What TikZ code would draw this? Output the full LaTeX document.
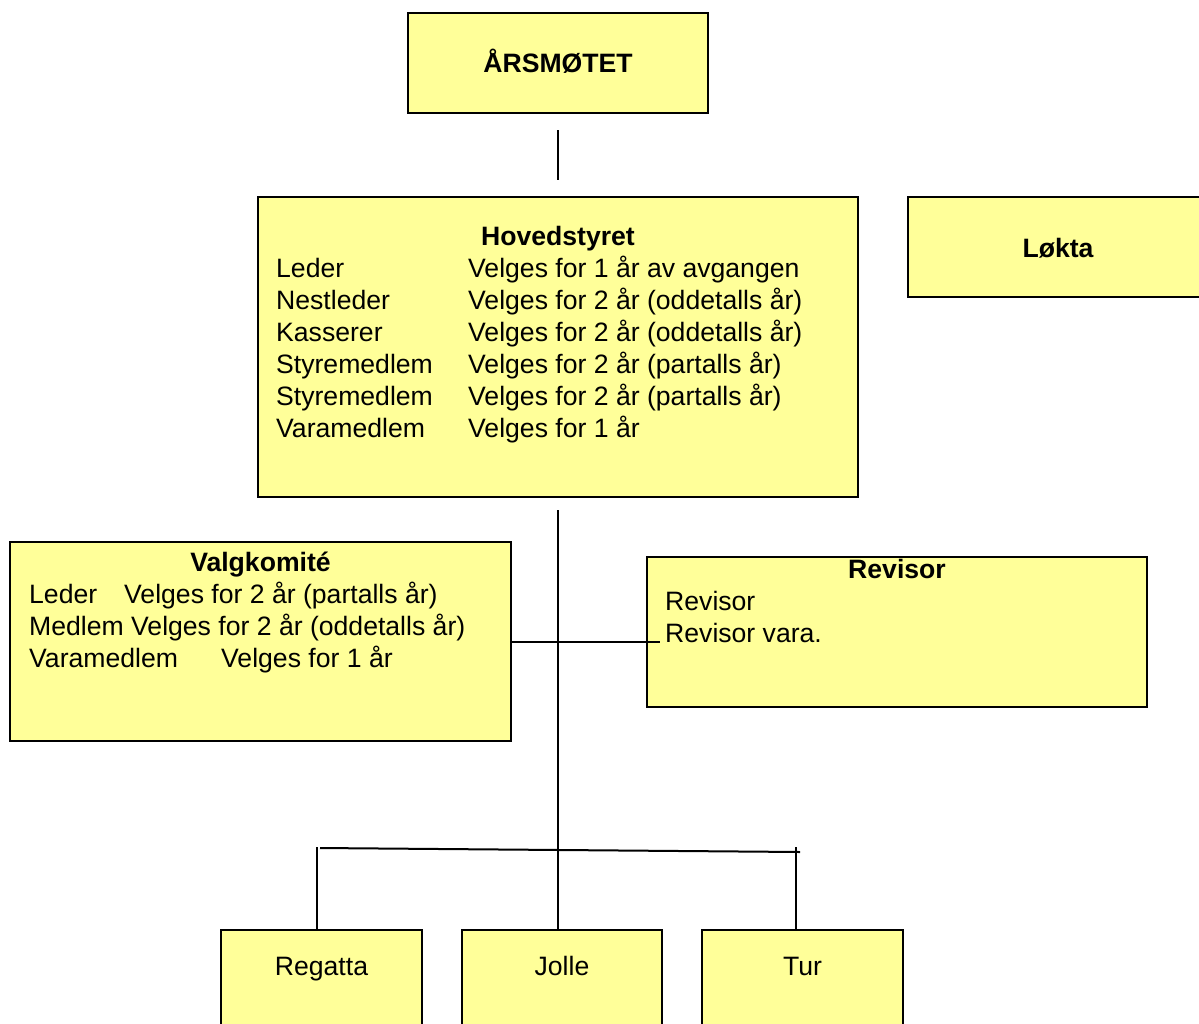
\documentclass[tikz,border=0pt]{standalone}
\usepackage{fontspec}
\setmainfont{Liberation Sans}
\definecolor{boxyellow}{HTML}{FFFF99}
\begin{document}
\begin{tikzpicture}[x=1pt,y=-1pt,
  box/.style={draw=black,line width=2pt,fill=boxyellow,inner sep=0pt,outer sep=0pt,anchor=north west},
  txt/.style={inner sep=0pt,font=\fontsize{26.6}{32}\selectfont},
  ttl/.style={inner sep=0pt,anchor=base,font=\fontsize{26.6}{32}\selectfont\bfseries},
  row/.style={txt,anchor=base west},
  conn/.style={draw=black,line width=2pt}]
\useasboundingbox (0,0) rectangle (1199,1023);
\clip (0,0) rectangle (1199,1023);
% boxes
\node[box,minimum width=300pt,minimum height=100pt] (aars) at (408,13) {};
\node[box,minimum width=600pt,minimum height=300pt] (hoved) at (258,197) {};
\node[box,minimum width=320pt,minimum height=100pt] (lokta) at (908,197) {};
\node[box,minimum width=501pt,minimum height=199pt] (valg) at (10,542) {};
\node[box,minimum width=500pt,minimum height=150pt] (rev) at (647,557) {};
\node[box,minimum width=201pt,minimum height=110pt] (regatta) at (221,930) {};
\node[box,minimum width=200pt,minimum height=110pt] (jolle) at (462,930) {};
\node[box,minimum width=201pt,minimum height=110pt] (tur) at (702,930) {};
% titles
\node[ttl] (aarsT) at (558,72.5) {ÅRSMØTET};
\node[ttl] (hovedT) at (558,245.5) {Hovedstyret};
\node[ttl] (loktaT) at (1058,257) {Løkta};
\node[ttl] (valgT) at (260.5,571.5) {Valgkomité};
\node[ttl] (revT) at (897,578.5) {Revisor};
% Hovedstyret rows
\node[row] (h1a) at (276,277.5) {Leder};
\node[row] (h1b) at (468,277.5) {Velges for 1 år av avgangen};
\node[row] (h2a) at (276,309.5) {Nestleder};
\node[row] (h2b) at (468,309.5) {Velges for 2 år (oddetalls år)};
\node[row] (h3a) at (276,341.5) {Kasserer};
\node[row] (h3b) at (468,341.5) {Velges for 2 år (oddetalls år)};
\node[row] (h4a) at (276,373.5) {Styremedlem};
\node[row] (h4b) at (468,373.5) {Velges for 2 år (partalls år)};
\node[row] (h5a) at (276,405.5) {Styremedlem};
\node[row] (h5b) at (468,405.5) {Velges for 2 år (partalls år)};
\node[row] (h6a) at (276,437.5) {Varamedlem};
\node[row] (h6b) at (468,437.5) {Velges for 1 år};
% Valgkomite rows
\node[row] (v1a) at (29,603.5) {Leder};
\node[row] (v1b) at (124,603.5) {Velges for 2 år (partalls år)};
\node[row] (v2) at (29,635.5) {Medlem Velges for 2 år (oddetalls år)};
\node[row] (v3a) at (29,667.5) {Varamedlem};
\node[row] (v3b) at (221,667.5) {Velges for 1 år};
% Revisor rows
\node[row] (r1) at (665,610.5) {Revisor};
\node[row] (r2) at (665,642.5) {Revisor vara.};
% bottom labels
\node[txt,anchor=base] (regT) at (321.5,975.5) {Regatta};
\node[txt,anchor=base] (jolT) at (562,975.5) {Jolle};
\node[txt,anchor=base] (turT) at (802.5,975.5) {Tur};
% connector coordinates
\coordinate (c1) at (558,130);
\coordinate (c2) at (558,180);
\coordinate (t1) at (558,510);
\coordinate (t2) at (558,930);
\coordinate (h1) at (660,641);
\coordinate (b1) at (320,848);
\coordinate (b2) at (800,852);
\coordinate (l1) at (317,847);
\coordinate (l2) at (317,930);
\coordinate (r1c) at (796,847);
\coordinate (r2c) at (796,930);
% connectors
\draw[conn] (c1) -- (c2);
\draw[conn] (t1) -- (t2);
\draw[conn] (valg.east) -- (valg.east -| h1);
\draw[conn] (b1) -- (b2);
\draw[conn] (l1) -- (l2);
\draw[conn] (r1c) -- (r2c);
\end{tikzpicture}
\end{document}
